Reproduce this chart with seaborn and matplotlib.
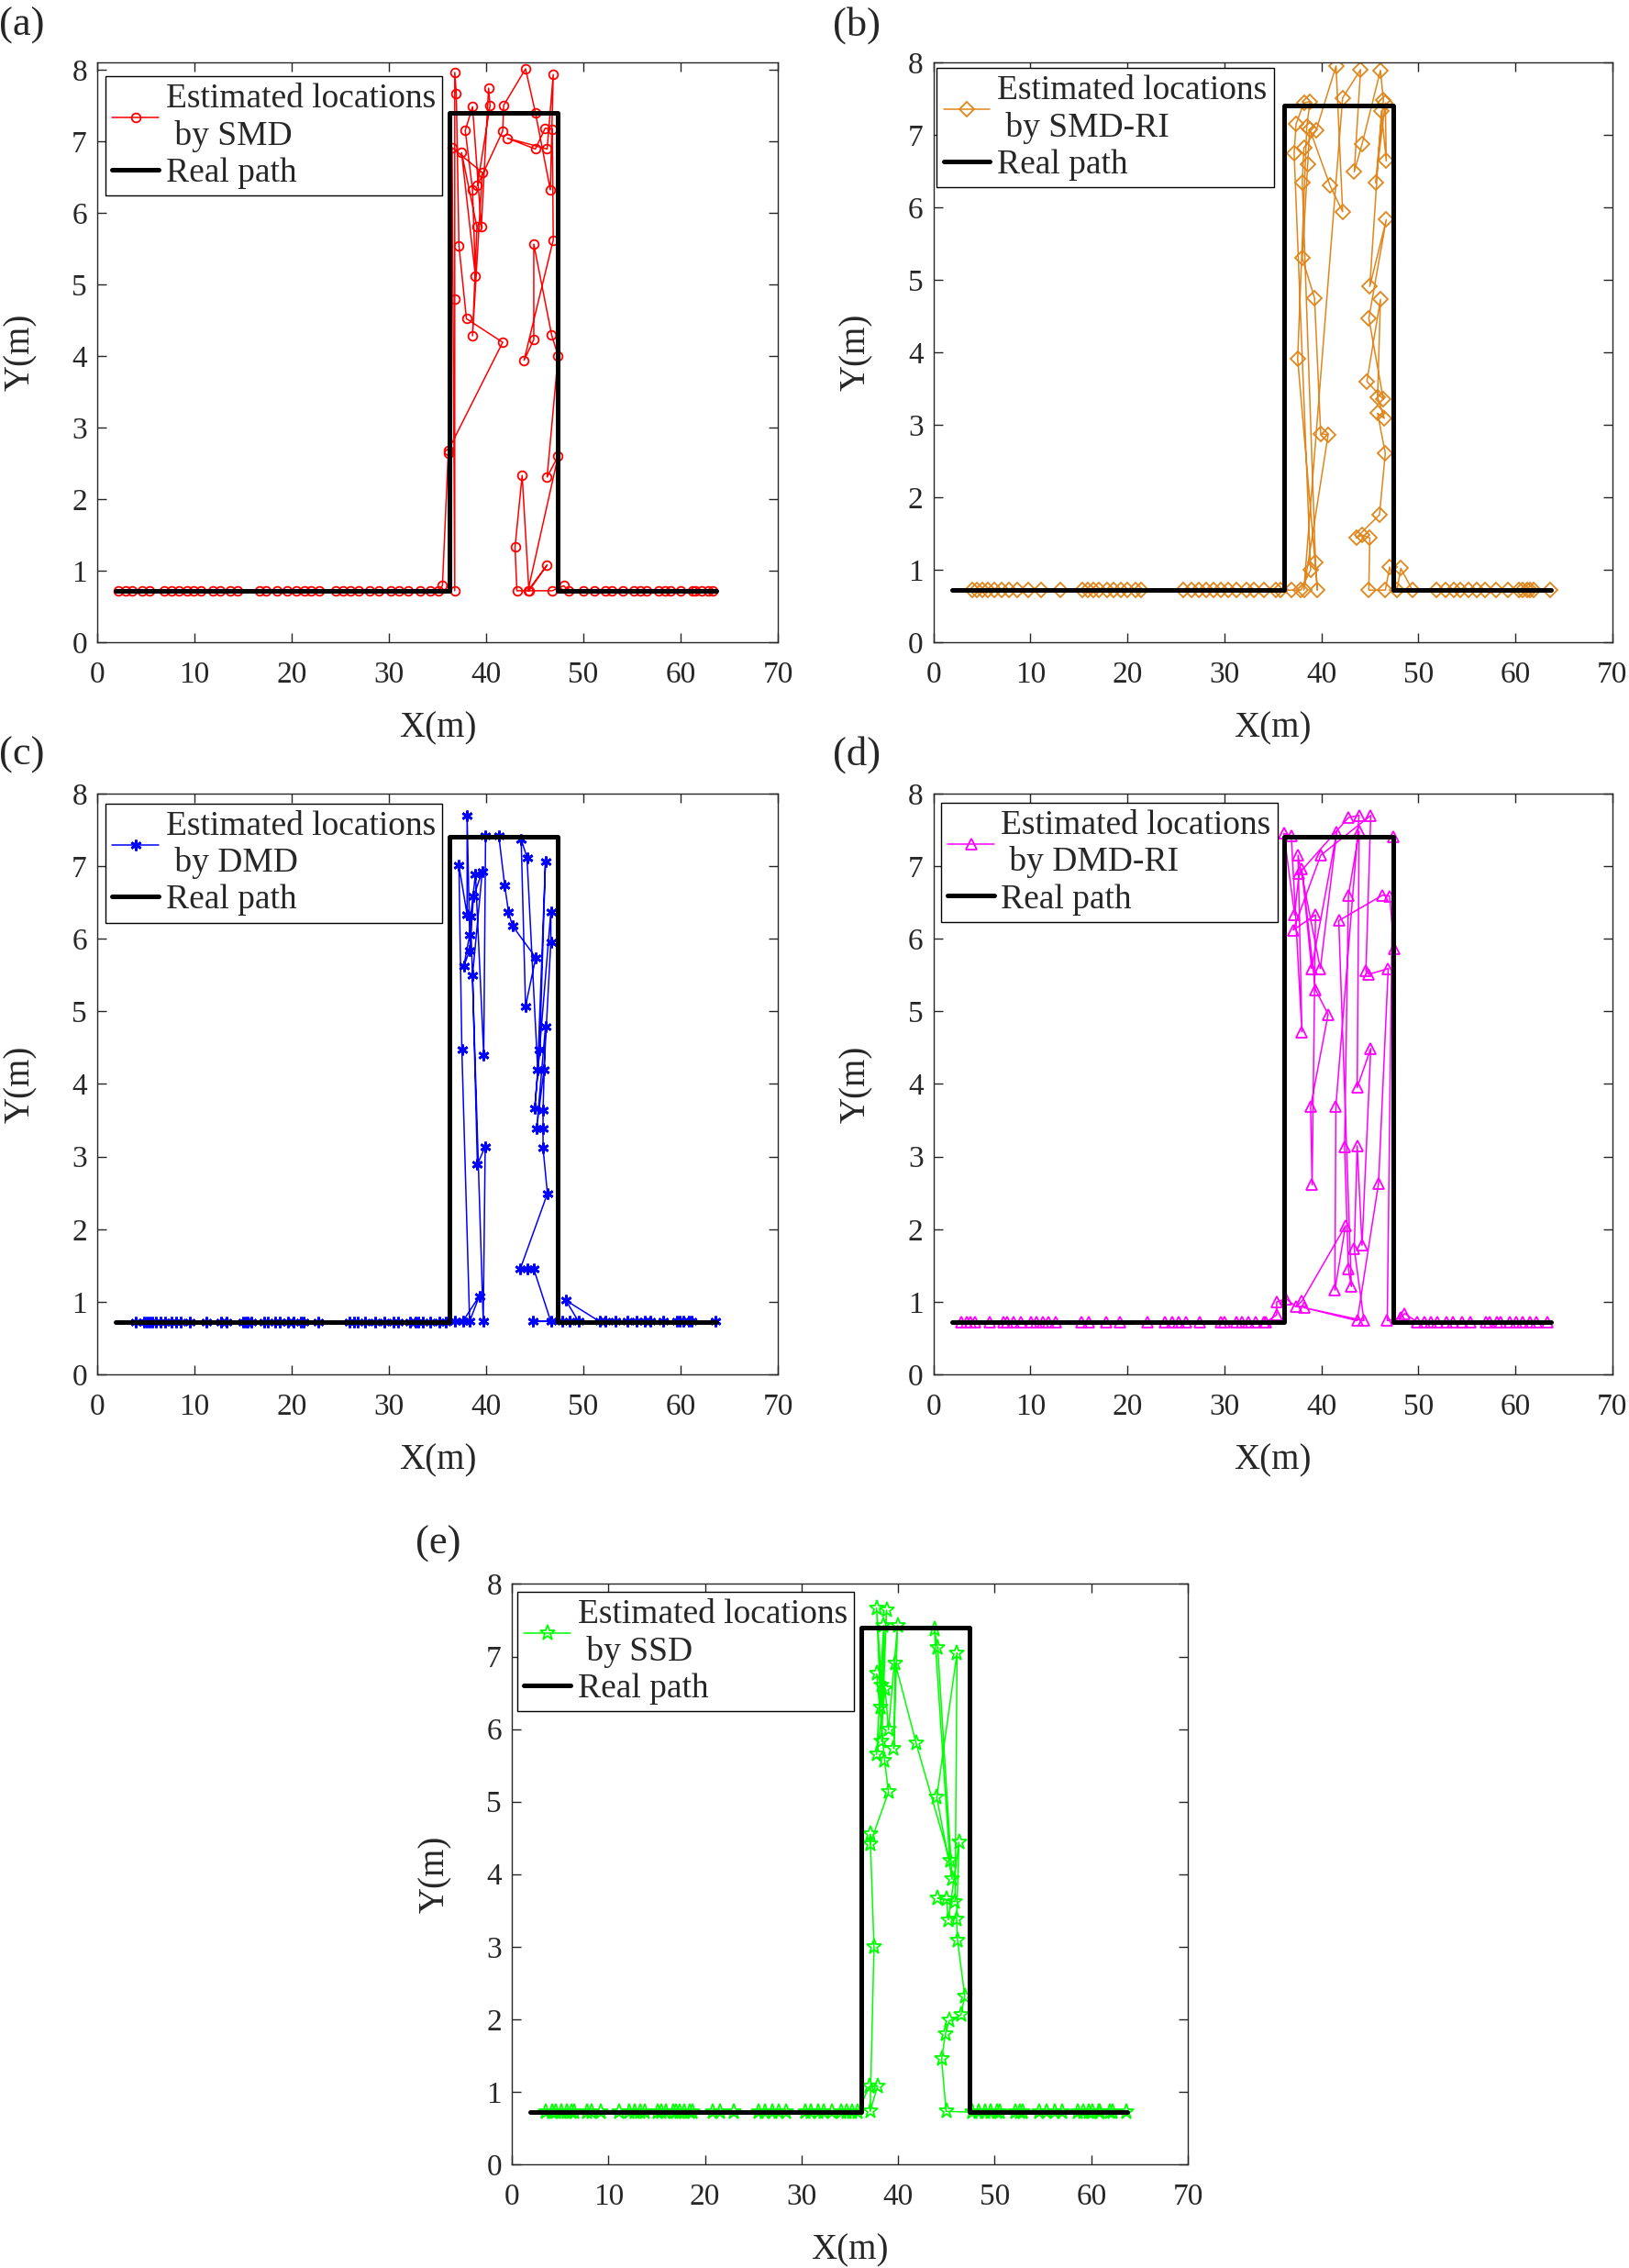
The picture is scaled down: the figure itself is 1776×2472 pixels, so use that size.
import matplotlib
matplotlib.use('Agg')
import matplotlib.pyplot as plt
import seaborn as sns

# real walking path (same in every panel)
path_x = [1.9, 36.2, 36.2, 47.4, 47.4, 63.7]
path_y = [0.72, 0.72, 7.4, 7.4, 0.72, 0.72]

# estimated locations, in walking order
smd_pts = [
    (2.2, 0.72), (2.9, 0.72), (3.6, 0.72), (4.6, 0.72), (5.4, 0.72), (6.9, 0.72), (7.6, 0.72),
    (8.4, 0.72), (9.2, 0.72), (9.9, 0.72), (10.7, 0.72), (11.9, 0.72), (12.6, 0.72), (13.7, 0.72),
    (14.4, 0.72), (16.7, 0.72), (17.4, 0.72), (18.5, 0.72), (19.5, 0.72), (20.5, 0.72), (21.3, 0.72),
    (22.0, 0.72), (22.8, 0.72), (24.5, 0.72), (25.3, 0.72), (26.0, 0.72), (26.9, 0.72), (28.0, 0.72),
    (29.0, 0.72), (30.2, 0.72), (31.0, 0.72), (32.0, 0.72), (33.2, 0.72), (34.2, 0.72), (35.1, 0.72),
    (35.5, 0.79),
    (36.1, 2.64), (36.1, 2.68), (41.7, 4.19), (37.97, 4.52), (37.2, 5.54), (36.93, 7.66), (36.77, 7.96),
    (36.77, 4.79), (36.77, 0.72), (36.5, 6.91), (39.6, 6.56), (38.6, 4.28), (39.05, 5.8), (37.47, 6.84),
    (38.9, 5.11), (38.6, 6.32), (37.85, 7.15), (38.6, 7.48), (39.5, 5.8), (40.25, 7.74), (40.4, 7.5),
    (39.1, 6.38), (41.7, 7.14), (41.8, 7.5), (44.05, 8.01), (45.06, 7.4), (46.6, 6.32), (46.9, 7.93),
    (46.27, 6.89), (42.2, 7.04), (45.06, 6.89), (46.07, 7.18), (46.8, 7.17), (46.9, 5.62), (43.9, 3.94),
    (44.9, 4.23), (44.9, 5.56), (46.74, 4.29), (47.4, 4.0), (46.27, 2.31), (47.4, 2.6), (44.3, 0.72),
    (46.27, 1.08), (44.4, 0.72), (43.7, 2.33), (42.97, 1.33), (43.16, 0.72), (46.8, 0.72), (47.97, 0.79),
    (48.5, 0.72), (50.0, 0.72), (51.1, 0.72), (52.3, 0.72), (52.9, 0.72), (54.1, 0.72), (55.2, 0.72),
    (55.8, 0.72), (56.5, 0.72), (57.7, 0.72), (58.4, 0.72), (59.0, 0.72), (60.0, 0.72), (61.2, 0.72),
    (61.5, 0.72), (62.2, 0.72), (62.8, 0.72), (63.3, 0.72),
]

smd_ri_pts = [
    (4.0, 0.72), (4.5, 0.72), (5.0, 0.72), (5.6, 0.72), (6.3, 0.72), (7.0, 0.72), (7.8, 0.72),
    (8.6, 0.72), (9.8, 0.72), (11.1, 0.72), (13.1, 0.72), (15.4, 0.72), (15.9, 0.72), (16.5, 0.72),
    (17.1, 0.72), (17.9, 0.72), (18.6, 0.72), (19.3, 0.72), (20.0, 0.72), (20.8, 0.72), (21.4, 0.72),
    (25.8, 0.72), (26.6, 0.72), (27.4, 0.72), (28.1, 0.72), (28.9, 0.72), (29.6, 0.72), (30.4, 0.72),
    (31.2, 0.72), (32.3, 0.72), (33.0, 0.72), (34.1, 0.72), (35.3, 0.72), (35.8, 0.72),
    (36.9, 0.72), (37.9, 0.72), (38.9, 1.0), (37.2, 6.75), (37.4, 7.15), (38.2, 7.44), (38.83, 7.46),
    (38.5, 7.11), (37.56, 3.91), (39.6, 0.72), (39.4, 1.1), (38.04, 6.34), (38.2, 6.82), (39.46, 7.06),
    (41.52, 7.95), (42.2, 5.94), (40.9, 6.3), (38.8, 7.08), (38.6, 6.6), (38.04, 5.3), (39.3, 4.75),
    (39.94, 2.88), (40.7, 2.86), (38.2, 0.72), (42.2, 7.51), (44.05, 7.9), (43.4, 6.49), (44.2, 6.87),
    (46.1, 7.89), (46.4, 7.48), (45.6, 6.34), (46.6, 7.44), (46.7, 6.64), (46.2, 7.33), (45.0, 4.91),
    (46.7, 5.83), (44.9, 4.47), (46.4, 3.35), (44.7, 3.6), (46.1, 4.73), (45.8, 3.38), (46.5, 3.09),
    (45.8, 3.16), (46.6, 2.61), (46.0, 1.76), (43.6, 1.44), (44.2, 1.48), (45.0, 1.44), (44.9, 0.72),
    (46.6, 0.72), (47.05, 1.04), (47.8, 0.72), (48.2, 1.02), (49.4, 0.72),
    (51.9, 0.72), (52.8, 0.72), (53.7, 0.72), (54.3, 0.72), (55.2, 0.72), (56.0, 0.72), (56.9, 0.72),
    (58.0, 0.72), (59.2, 0.72), (60.4, 0.72), (60.8, 0.72), (61.2, 0.72), (61.5, 0.72), (61.9, 0.72),
    (63.6, 0.72),
]

dmd_pts = [
    (4.0, 0.72), (4.8, 0.72), (5.1, 0.72), (5.4, 0.72), (5.7, 0.72), (6.0, 0.72), (6.5, 0.72),
    (7.0, 0.72), (7.6, 0.72), (8.1, 0.72), (8.6, 0.72), (9.5, 0.72), (11.2, 0.72), (12.7, 0.72),
    (13.3, 0.72), (15.0, 0.72), (15.3, 0.72), (15.5, 0.72), (15.8, 0.72), (17.2, 0.72), (17.5, 0.72),
    (18.3, 0.72), (18.8, 0.72), (19.6, 0.72), (20.2, 0.72), (20.9, 0.72), (21.2, 0.72), (22.7, 0.72),
    (25.9, 0.72), (26.4, 0.72), (26.8, 0.72), (27.5, 0.72), (28.6, 0.72), (29.5, 0.72), (30.5, 0.72),
    (30.9, 0.72), (32.2, 0.72), (32.7, 0.72), (33.0, 0.72), (33.5, 0.72), (34.2, 0.72), (35.2, 0.72),
    (35.8, 0.72),
    (36.8, 0.73), (37.6, 0.73), (39.3, 1.08), (38.3, 0.73), (37.5, 4.47), (37.2, 7.01), (38.04, 6.33),
    (38.04, 7.7), (38.3, 6.05), (37.7, 5.62), (38.3, 5.84), (38.7, 6.58), (39.6, 6.93), (38.6, 5.5),
    (39.1, 2.89), (39.9, 3.14), (39.7, 0.73), (38.4, 6.3), (38.9, 6.89), (39.75, 4.4), (39.94, 7.42),
    (41.3, 7.42), (41.9, 6.74), (42.3, 6.37), (42.7, 6.18), (45.1, 5.74), (44.05, 5.07), (43.6, 7.37),
    (44.2, 7.12), (45.3, 4.2), (46.1, 7.07), (45.5, 4.47), (45.0, 3.67), (46.65, 6.37), (46.65, 5.95),
    (45.95, 4.2), (45.2, 3.39), (46.1, 4.79), (45.85, 3.64), (45.85, 3.39), (45.85, 3.12), (46.3, 2.49),
    (43.5, 1.45), (44.2, 1.45), (44.9, 1.45), (46.65, 0.73), (44.8, 0.73), (47.85, 0.73),
    (48.54, 0.73), (49.49, 0.73), (48.2, 1.02), (51.65, 0.73), (52.28, 0.73), (53.29, 0.73),
    (54.56, 0.73), (55.51, 0.73), (56.3, 0.73), (56.93, 0.73), (58.2, 0.73), (59.62, 0.73),
    (59.94, 0.73), (60.25, 0.73), (60.89, 0.73), (61.14, 0.73), (63.58, 0.73),
]

dmd_ri_pts = [
    (2.9, 0.72), (3.4, 0.72), (3.8, 0.72), (4.3, 0.72), (5.8, 0.72), (7.2, 0.72), (7.6, 0.72),
    (8.3, 0.72), (9.0, 0.72), (10.1, 0.72), (10.6, 0.72), (11.3, 0.72), (11.9, 0.72), (12.6, 0.72),
    (15.3, 0.72), (16.0, 0.72), (17.8, 0.72), (19.2, 0.72), (22.1, 0.72), (23.9, 0.72), (24.6, 0.72),
    (25.3, 0.72), (26.0, 0.72), (27.5, 0.72), (29.6, 0.72), (30.0, 0.72), (31.2, 0.72), (31.8, 0.72),
    (32.5, 0.72), (33.2, 0.72), (34.1, 0.72), (34.3, 0.72),
    (35.4, 0.82), (35.4, 1.0), (36.4, 1.04), (37.4, 0.93), (38.0, 1.01), (42.5, 2.05), (41.4, 1.16),
    (41.5, 3.69), (43.9, 7.7), (42.8, 7.67), (37.7, 6.9), (37.25, 6.33), (36.14, 7.45), (36.9, 7.42),
    (38.0, 4.72), (37.6, 7.15), (39.9, 5.59), (41.6, 7.47), (39.0, 5.59), (38.0, 6.96), (39.4, 5.3),
    (40.7, 4.96), (38.9, 3.69), (39.05, 2.61), (39.4, 6.33), (37.1, 6.12), (39.94, 7.15), (45.1, 7.7),
    (44.6, 5.56), (44.9, 5.51), (46.9, 5.59), (45.9, 2.63), (43.7, 0.74), (38.2, 0.92), (44.4, 0.74),
    (43.4, 1.73), (43.7, 3.15), (44.2, 1.78), (45.1, 4.49), (43.7, 3.95), (43.9, 7.48), (42.8, 6.6),
    (42.4, 3.14), (42.8, 1.45), (43.1, 1.21), (41.8, 6.25), (46.3, 6.6), (47.05, 6.59), (47.5, 5.86),
    (47.4, 7.41), (46.8, 0.74), (48.2, 0.78), (48.6, 0.84),
    (49.9, 0.72), (50.6, 0.72), (51.3, 0.72), (52.0, 0.72), (52.9, 0.72), (53.6, 0.72), (54.5, 0.72),
    (55.4, 0.72), (57.0, 0.72), (57.4, 0.72), (58.1, 0.72), (58.5, 0.72), (59.4, 0.72), (60.1, 0.72),
    (60.8, 0.72), (61.5, 0.72), (62.2, 0.72), (63.3, 0.72),
]

ssd_pts = [
    (3.5, 0.72), (4.15, 0.72), (4.6, 0.72), (5.1, 0.72), (5.7, 0.72), (6.2, 0.72), (6.5, 0.72),
    (7.8, 0.72), (8.3, 0.72), (9.2, 0.72), (11.1, 0.72), (12.2, 0.72), (12.7, 0.72), (13.3, 0.72),
    (13.8, 0.72), (15.1, 0.72), (15.5, 0.72), (16.0, 0.72), (16.7, 0.72), (17.0, 0.72), (17.4, 0.72),
    (17.9, 0.72), (18.4, 0.72), (18.7, 0.72), (20.8, 0.72), (21.6, 0.72), (23.0, 0.72), (25.5, 0.72),
    (26.2, 0.72), (27.0, 0.72), (27.6, 0.72), (28.4, 0.72), (30.4, 0.72), (31.0, 0.72), (31.7, 0.72),
    (32.3, 0.72), (33.1, 0.72), (34.1, 0.72), (34.7, 0.72), (35.2, 0.72), (35.8, 0.72),
    (37.0, 1.07), (37.87, 1.08), (37.1, 0.73), (37.5, 3.0), (37.1, 4.55), (37.1, 4.42), (39.0, 5.13),
    (38.6, 5.56), (37.77, 6.76), (38.3, 6.6), (37.77, 7.67), (38.2, 6.3), (38.8, 7.64), (38.3, 5.83),
    (38.5, 7.43), (37.77, 5.65), (38.66, 6.55), (39.0, 5.99), (39.94, 7.43), (39.55, 5.73), (39.7, 6.91),
    (41.85, 5.81), (45.35, 4.19), (43.76, 7.37), (44.1, 7.12), (45.6, 3.93), (44.0, 5.06), (46.1, 7.05),
    (45.9, 3.62), (44.1, 3.67), (45.0, 3.65), (45.2, 3.37), (46.3, 4.44), (46.05, 3.38), (46.15, 3.09),
    (46.9, 2.32), (46.5, 2.06), (45.3, 1.98), (44.9, 1.8), (44.5, 1.45), (44.97, 0.73),
    (47.7, 0.72), (48.3, 0.72), (49.0, 0.72), (49.6, 0.72), (50.2, 0.72), (50.5, 0.72), (52.1, 0.72),
    (52.6, 0.72), (52.9, 0.72), (54.6, 0.72), (55.4, 0.72), (56.2, 0.72), (57.0, 0.72), (58.6, 0.72),
    (59.2, 0.72), (59.7, 0.72), (60.1, 0.72), (60.8, 0.72), (60.9, 0.72), (61.9, 0.72), (62.2, 0.72),
    (63.6, 0.72),
]

sns.set_theme(style='white')
plt.rcParams['font.family'] = ['Liberation Serif', 'DejaVu Serif']

fig = plt.figure(figsize=(17.76, 24.72), dpi=100)

# one entry per panel: data, method name, look, placement
panels = [
    ('(a)', smd_pts, 'SMD', '#ff0000', 'o', 7, 'none', 1.3, [0.0597, 0.7168, 0.4178, 0.2557], 8.1, (0.012, 0.976), (24, 28)),
    ('(b)', smd_ri_pts, 'SMD-RI', '#e0861c', 'D', 8, 'none', 1.3, [0.5730, 0.7168, 0.4167, 0.2557], 8, (0.005, 0.99), (934, 28)),
    ('(c)', dmd_pts, 'DMD', '#0000ff', (6, 2, 0), 8.5, '#0000ff', 2.0, [0.0597, 0.3940, 0.4178, 0.2561], 8, (0.012, 0.983), (24, 823)),
    ('(d)', dmd_ri_pts, 'DMD-RI', '#ff00ff', '^', 9, 'none', 1.3, [0.5730, 0.3940, 0.4167, 0.2561], 8, (0.011, 0.984), (934, 823)),
    ('(e)', ssd_pts, 'SSD', '#00ff00', '*', 12.5, 'none', 1.3, [0.3142, 0.0457, 0.4150, 0.2559], 8, (0.008, 0.986), (478, 1683)),
]

for tag, pts, name, color, mk, ms, mfc, mew, pos, ytop, leg_at, tag_xy in panels:
    ax = fig.add_axes(pos)
    xs = [p[0] for p in pts]
    ys = [p[1] for p in pts]
    sns.lineplot(x=xs, y=ys, sort=False, estimator=None, ax=ax, color=color, linewidth=1.1,
                 marker=mk, markersize=ms, markerfacecolor=mfc, markeredgecolor=color,
                 markeredgewidth=mew, label='Estimated locations\n by ' + name, zorder=2)
    sns.lineplot(x=path_x, y=path_y, sort=False, estimator=None, ax=ax, color='black',
                 linewidth=3.6, label='Real path', zorder=3)

    ax.set_xlim(0, 70)
    ax.set_ylim(0, ytop)
    ax.set_xticks(range(0, 71, 10))
    ax.set_yticks(range(0, 9))
    ax.tick_params(direction='in', length=7, width=1, top=True, right=True, bottom=True, left=True,
                   labelsize=24, colors='#262626')
    ax.tick_params(axis='x', pad=15)
    ax.tick_params(axis='y', pad=8)
    for s in ax.spines.values():
        s.set_visible(True)
        s.set_color('#262626')
        s.set_linewidth(1.0)

    ax.set_xlabel('X(m)', fontsize=28, va='center')
    ax.xaxis.set_label_coords(0.5, -0.148)
    ax.set_ylabel('Y(m)', fontsize=28, va='center')
    ax.yaxis.set_label_coords(-0.113, 0.5)

    leg = ax.legend(loc='upper left', bbox_to_anchor=leg_at, borderaxespad=0, fontsize=27,
                    frameon=True, fancybox=False, edgecolor='black', framealpha=1,
                    handlelength=1.35, handletextpad=0.2, borderpad=0.2, labelspacing=0.15)
    leg.get_frame().set_linewidth(1.0)

    fig.text(tag_xy[0] / 1776, 1 - tag_xy[1] / 2472, tag, fontsize=32, ha='center', va='center')

fig.savefig('out.png', dpi=100)
